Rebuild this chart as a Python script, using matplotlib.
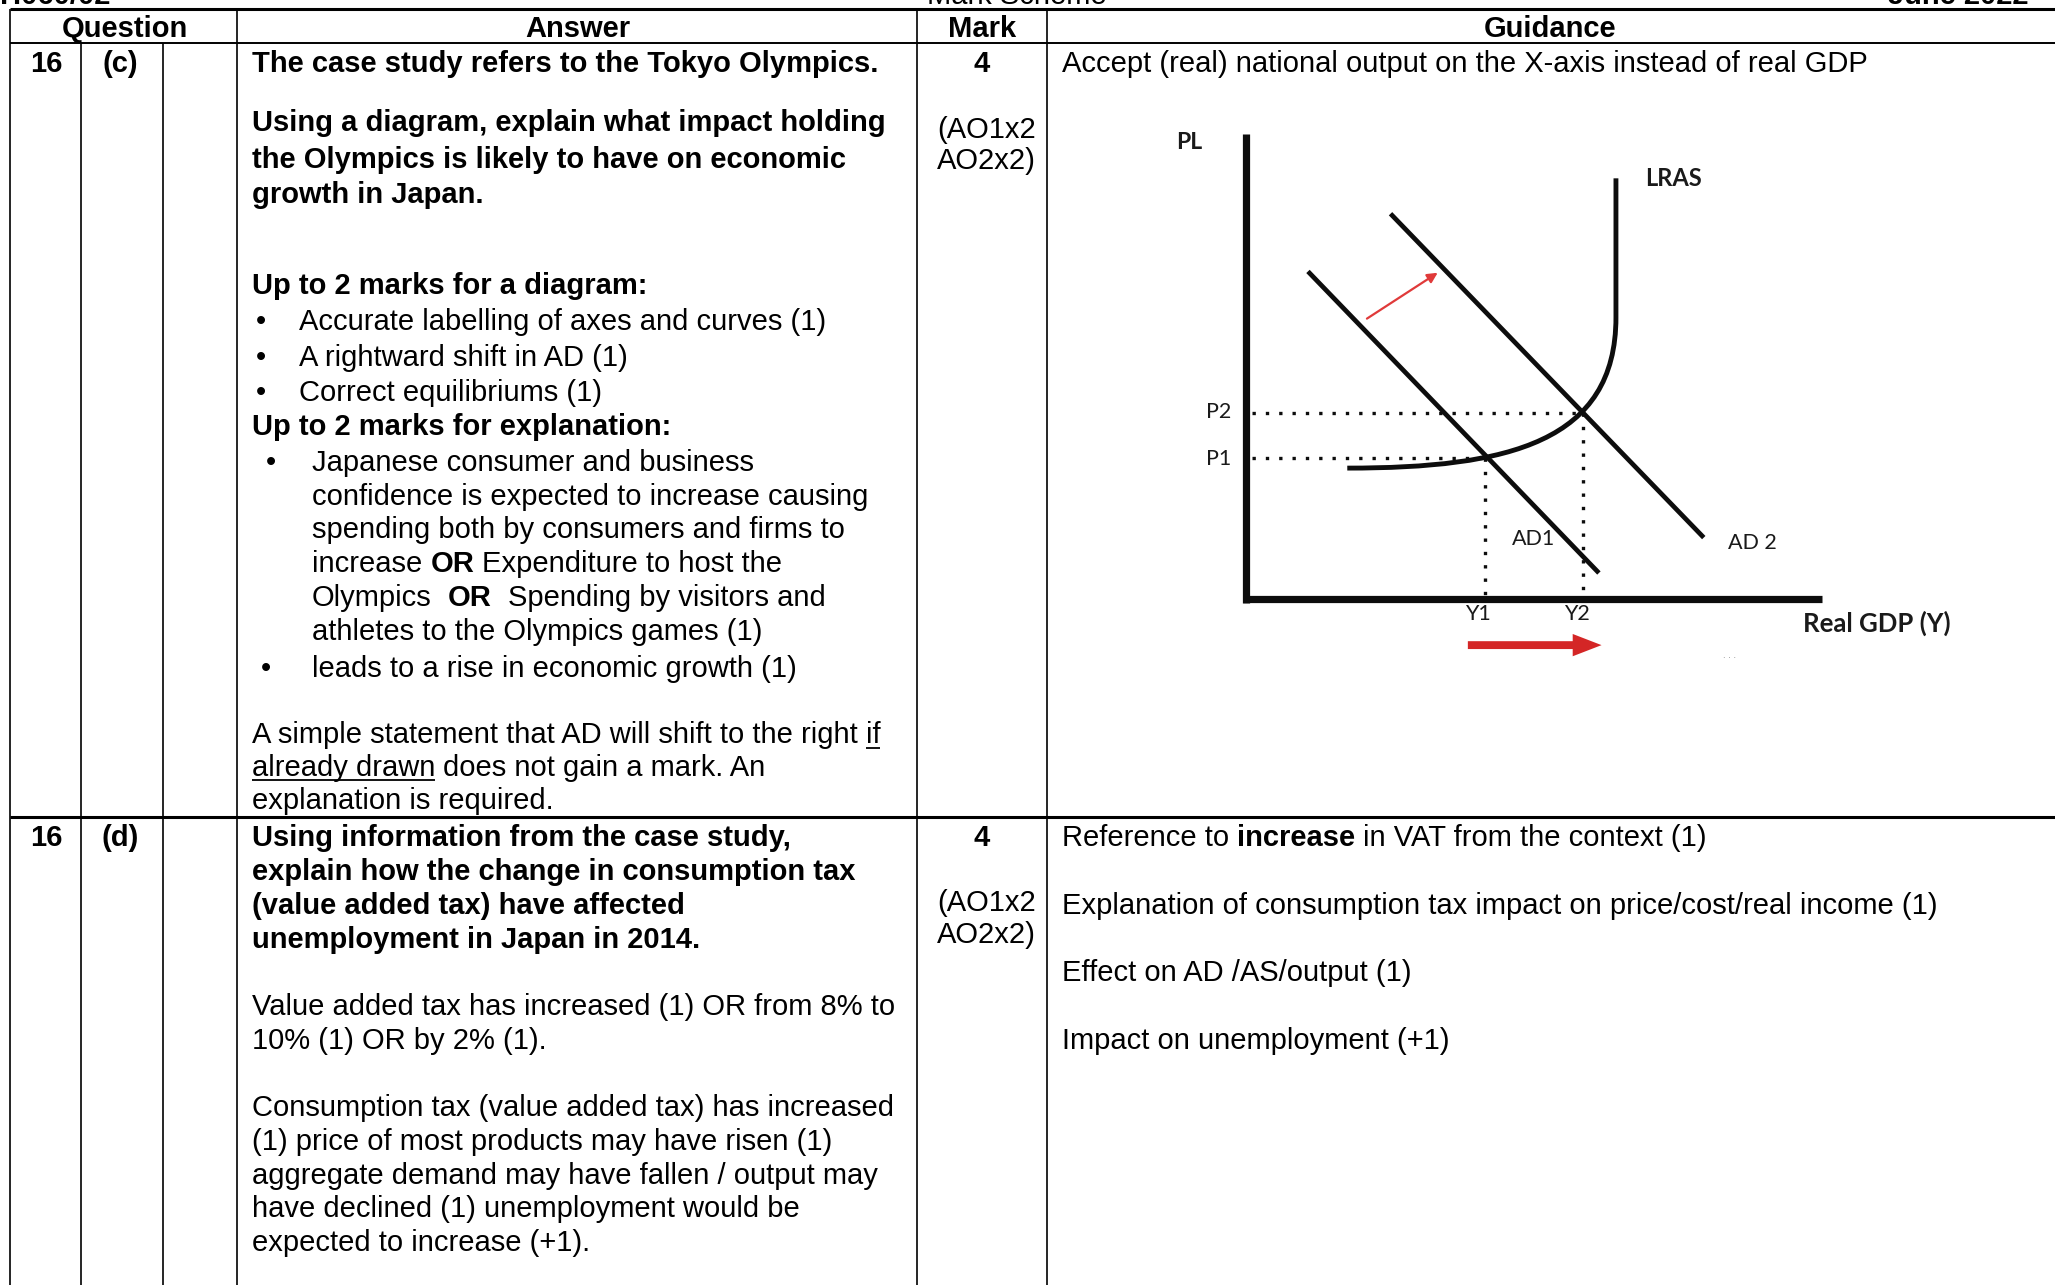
import matplotlib
matplotlib.use('Agg')
import matplotlib.pyplot as plt
from matplotlib.path import Path
from matplotlib.patches import PathPatch, FancyArrow

# ---------------- data ----------------
W, H, DPI = 2055, 1285, 100
REF_W, REF_H = 1568, 980          # layout units

FONT = ['Liberation Sans', 'DejaVu Sans']
DFONT = ['Lato', 'Open Sans', 'DejaVu Sans']
FS = 21

page_header = [('H060/02', 0, 'left', 'bold'),
               ('Mark Scheme', 776, 'center', 'normal'),
               ('June 2022', 1548, 'right', 'bold')]

header_labels = ['Question', 'Answer', 'Mark', 'Guidance']
header_x = [95, 441, 749, 1183]

col_full_x = [8, 181, 700, 799]
col_sub_x = [62, 124]
hline_y = [7, 33, 623]
hline_lw = [2.2, 1.4, 2.2]

question_nums = ['16', '16']
question_parts = ['(c)', '(d)']
row_top_y = [47, 637]
marks = ['4', '4']
ao_lines = ['(AO1x2', 'AO2x2)']
ao_y_c = [97, 121]
ao_y_d = [687, 711]

# (x, y, [(text, weight, underline)])
answer_c = [
    (192, 47, [('The case study refers to the Tokyo Olympics.', 'bold', False)]),
    (192, 92, [('Using a diagram, explain what impact holding', 'bold', False)]),
    (192, 120, [('the Olympics is likely to have on economic', 'bold', False)]),
    (192, 147, [('growth in Japan.', 'bold', False)]),
    (192, 216, [('Up to 2 marks for a diagram:', 'bold', False)]),
    (228, 244, [('Accurate labelling of axes and curves (1)', 'normal', False)]),
    (228, 271, [('A rightward shift in AD (1)', 'normal', False)]),
    (228, 298, [('Correct equilibriums (1)', 'normal', False)]),
    (192, 324, [('Up to 2 marks for explanation:', 'bold', False)]),
    (238, 351, [('Japanese consumer and business', 'normal', False)]),
    (238, 377, [('confidence is expected to increase causing', 'normal', False)]),
    (238, 402, [('spending both by consumers and firms to', 'normal', False)]),
    (238, 428, [('increase ', 'normal', False), ('OR', 'bold', False),
                (' Expenditure to host the', 'normal', False)]),
    (238, 454, [('Olympics  ', 'normal', False), ('OR', 'bold', False),
                ('  Spending by visitors and', 'normal', False)]),
    (238, 480, [('athletes to the Olympics games (1)', 'normal', False)]),
    (238, 508, [('leads to a rise in economic growth (1)', 'normal', False)]),
    (192, 559, [('A simple statement that AD will shift to the right ', 'normal', False),
                ('if', 'normal', True)]),
    (192, 584, [('already drawn', 'normal', True),
                (' does not gain a mark. An', 'normal', False)]),
    (192, 609, [('explanation is required.', 'normal', False)]),
]
bullets = [(199, 244), (199, 271), (199, 298), (207, 351), (203, 508)]

answer_d = [
    (192, 637, [('Using information from the case study,', 'bold', False)]),
    (192, 663, [('explain how the change in consumption tax', 'bold', False)]),
    (192, 689, [('(value added tax) have affected', 'bold', False)]),
    (192, 715, [('unemployment in Japan in 2014.', 'bold', False)]),
    (192, 766, [('Value added tax has increased (1) OR from 8% to', 'normal', False)]),
    (192, 792, [('10% (1) OR by 2% (1).', 'normal', False)]),
    (192, 843, [('Consumption tax (value added tax) has increased', 'normal', False)]),
    (192, 869, [('(1) price of most products may have risen (1)', 'normal', False)]),
    (192, 895, [('aggregate demand may have fallen / output may', 'normal', False)]),
    (192, 920, [('have declined (1) unemployment would be', 'normal', False)]),
    (192, 946, [('expected to increase (+1).', 'normal', False)]),
]

guidance = [
    (810, 47, [('Accept (real) national output on the X-axis instead of real GDP', 'normal', False)]),
    (810, 637, [('Reference to ', 'normal', False), ('increase', 'bold', False),
                (' in VAT from the context (1)', 'normal', False)]),
    (810, 689, [('Explanation of consumption tax impact on price/cost/real income (1)', 'normal', False)]),
    (810, 740, [('Effect on AD /AS/output (1)', 'normal', False)]),
    (810, 792, [('Impact on unemployment (+1)', 'normal', False)]),
]

# diagram (units relative to axis origin, y up)
axis_y_top = 355
axis_x_right = 439
ad1_x, ad1_y = [47, 269], [250, 20]
ad2_x, ad2_y = [110, 349], [294, 47]
lras_ctrl_x = [77, 200, 282, 282, 282]
lras_ctrl_y = [100, 100, 120, 215, 321]
eq_x = [183, 257]          # Y1, Y2
eq_y = [108, 142]          # P1, P2
shift_arrow = [(92, 214), (146, 249)]
output_arrow = [(169, -35), (271, -35)]

# ---------------- figure ----------------
fig = plt.figure(figsize=(W / DPI, H / DPI), dpi=DPI)
ax = fig.add_axes([0, 0, 1, 1])
ax.set_xlim(0, REF_W)
ax.set_ylim(REF_H, 0)
ax.axis('off')

renderer = fig.canvas.get_renderer()
PX = W / REF_W


def wunits(t):
    return t.get_window_extent(renderer=renderer).width / PX


space_w = {}
for wt in ('normal', 'bold'):
    a = ax.text(0, 0, 'x x', fontsize=FS, fontweight=wt, family=FONT)
    b = ax.text(0, 0, 'xx', fontsize=FS, fontweight=wt, family=FONT)
    space_w[wt] = wunits(a) - wunits(b)
    a.remove()
    b.remove()


def rich(x, yc, parts):
    yb = yc + 8
    for text, wt, ul in parts:
        lead = len(text) - len(text.lstrip(' '))
        trail = len(text) - len(text.rstrip(' '))
        core = text.strip(' ')
        x += lead * space_w[wt]
        t = ax.text(x, yb, core, fontsize=FS, fontweight=wt, family=FONT,
                    ha='left', va='baseline', color='black')
        w = wunits(t)
        if ul:
            ax.plot([x, x + w], [yb + 3.2, yb + 3.2], color='black', lw=1.3,
                    solid_capstyle='butt')
        x += w + trail * space_w[wt]


# page header (mostly cut off at top, as in the page scan)
for txt, x, ha, wt in page_header:
    ax.text(x, 3.0, txt, fontsize=FS, fontweight=wt, family=FONT, ha=ha,
            va='baseline', color='black')

# table lines
for y, lw in zip(hline_y, hline_lw):
    ax.plot([8, REF_W + 5], [y, y], color='black', lw=lw, solid_capstyle='butt')
for x in col_full_x:
    ax.plot([x, x], [hline_y[0], REF_H + 5], color='black', lw=1.2, solid_capstyle='butt')
for x in col_sub_x:
    ax.plot([x, x], [hline_y[1], REF_H + 5], color='black', lw=1.2, solid_capstyle='butt')

# header labels
for lab, x in zip(header_labels, header_x):
    ax.text(x, 20 + 8, lab, fontsize=FS, fontweight='bold', family=FONT,
            ha='center', va='baseline')

# question numbers, marks
for num, part, yc, mk in zip(question_nums, question_parts, row_top_y, marks):
    ax.text(35, yc + 8, num, fontsize=FS, fontweight='bold', family=FONT, ha='center', va='baseline')
    ax.text(92, yc + 8, part, fontsize=FS, fontweight='bold', family=FONT, ha='center', va='baseline')
    ax.text(749, yc + 8, mk, fontsize=FS, fontweight='bold', family=FONT, ha='center', va='baseline')
for ys in (ao_y_c, ao_y_d):
    for line, yc in zip(ao_lines, ys):
        ax.text(715, yc + 8, line, fontsize=FS, family=FONT, ha='left', va='baseline')

for x, yc, parts in answer_c + answer_d + guidance:
    rich(x, yc, parts)
for bx, by in bullets:
    ax.text(bx, by + 8, '\u2022', fontsize=FS, family=FONT, ha='center', va='baseline')

# ---------------- diagram ----------------
ox, oy = 951, 457
L, R, T, B = 880, 1530, 85, 515
dax = fig.add_axes([L / REF_W, 1 - B / REF_H, (R - L) / REF_W, (B - T) / REF_H])
dax.set_xlim(L - ox, R - ox)
dax.set_ylim(oy - B, oy - T)
dax.axis('off')

ink = '#0d0d0d'
dax.plot([0, 0], [-2.5, axis_y_top], color=ink, lw=5.2, solid_capstyle='butt')
dax.plot([-2.5, axis_x_right], [0, 0], color=ink, lw=5.2, solid_capstyle='butt')

dax.plot(ad1_x, ad1_y, color=ink, lw=3.4, solid_capstyle='butt')
dax.plot(ad2_x, ad2_y, color=ink, lw=3.4, solid_capstyle='butt')

verts = list(zip(lras_ctrl_x, lras_ctrl_y))
codes = [Path.MOVETO, Path.CURVE4, Path.CURVE4, Path.CURVE4, Path.LINETO]
dax.add_patch(PathPatch(Path(verts, codes), fill=False, edgecolor=ink, lw=3.5,
                        capstyle='butt'))

dot = dict(color=ink, lw=2.4, dashes=(1, 3.0), dash_capstyle='butt')
dax.plot([4, eq_x[1]], [eq_y[1], eq_y[1]], **dot)
dax.plot([4, eq_x[0]], [eq_y[0], eq_y[0]], **dot)
dax.plot([eq_x[0] - 1, eq_x[0] - 1], [eq_y[0], 3], **dot)
dax.plot([eq_x[1], eq_x[1]], [eq_y[1], 7], **dot)

lab = dict(family=DFONT, color='#1a1a1a', ha='center', va='center')
dax.text(-44, 348, 'PL', fontsize=16.5, fontweight='bold', **lab)
dax.text(326, 321, 'LRAS', fontsize=17, fontweight='bold', **lab)
dax.text(-21, eq_y[1] + 1, 'P2', fontsize=15.5, **lab)
dax.text(-21, eq_y[0] - 1, 'P1', fontsize=15.5, **lab)
dax.text(eq_x[0] - 6, -11, 'Y1', fontsize=15.5, **lab)
dax.text(eq_x[1] - 5, -11, 'Y2', fontsize=15.5, **lab)
dax.text(219, 46, 'AD1', fontsize=15.5, **lab)
dax.text(386, 43, 'AD 2', fontsize=15.5, **lab)
dax.text(481, -18, 'Real GDP (Y)', fontsize=18.5, fontweight='bold', **lab)

(sx0, sy0), (sx1, sy1) = shift_arrow
dax.annotate('', xy=(sx1, sy1), xytext=(sx0, sy0),
             arrowprops=dict(arrowstyle='-|>', color='#e03a3a', lw=1.6,
                             mutation_scale=15, shrinkA=0, shrinkB=0))
(ax0, ay0), (ax1, ay1) = output_arrow
dax.add_patch(FancyArrow(ax0, ay0, ax1 - ax0, ay1 - ay0, width=6, head_width=17,
                         head_length=22, length_includes_head=True,
                         color='#d42626', lw=0))
dax.text(369, -45, '\u00b7 \u00b7 \u00b7', fontsize=6, color='#777777', ha='center', va='center')

fig.savefig('out.png', dpi=DPI)
